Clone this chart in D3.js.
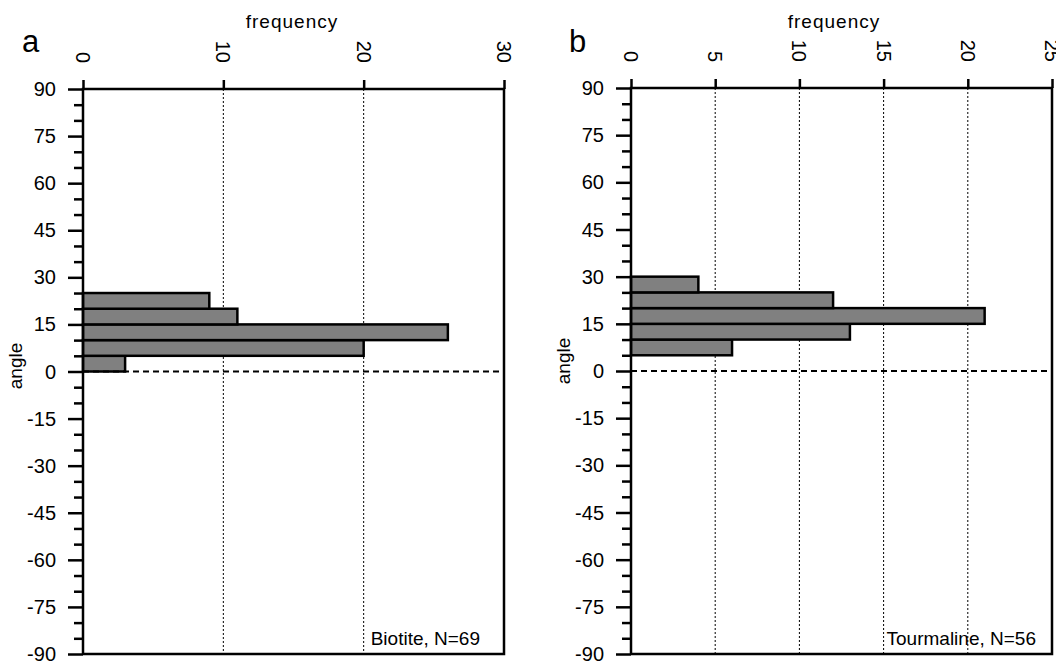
<!DOCTYPE html>
<html>
<head>
<meta charset="utf-8">
<script src="https://cdn.jsdelivr.net/npm/d3@7"></script>
<style>
  body { margin: 0; background: #fff; }
  text { font-family: "Liberation Sans", Arial, sans-serif; fill: #000; }
</style>
</head>
<body>
<div id="chart"></div>
<script>
// angle bins (lower edge, 5 degree wide)
const binStarts = [0, 5, 10, 15, 20, 25];
const biotiteCounts = [3, 20, 26, 11, 9, 0];
const tourmalineCounts = [0, 6, 13, 21, 12, 4];

const angleTicks = [90, 75, 60, 45, 30, 15, 0, -15, -30, -45, -60, -75, -90];
const biotiteFreqTicks = [0, 10, 20, 30];
const tourmalineFreqTicks = [0, 5, 10, 15, 20, 25];

const panelLetters = ["a", "b"];
const panelNotes = ["Biotite, N=69", "Tourmaline, N=56"];

const svg = d3.select("#chart").append("svg")
  .attr("width", 1056)
  .attr("height", 665);

function drawPanel(opt) {
  const g = svg.append("g");

  let x = d3.scaleLinear()
    .domain([0, d3.max(opt.freqTicks)])
    .range([opt.left, opt.right]);

  let y = d3.scaleLinear()
    .domain([-90, 90])
    .range([opt.bottom, opt.top]);

  // dotted grid lines
  g.selectAll("line.grid")
    .data(opt.freqTicks.slice(1, -1))
    .enter()
    .append("line")
    .attr("class", "grid")
    .attr("x1", d => x(d)).attr("x2", d => x(d))
    .attr("y1", y(90)).attr("y2", y(-90))
    .attr("stroke", "#000")
    .attr("stroke-width", 1)
    .attr("stroke-dasharray", "2,2");

  // bars
  const bins = binStarts.map((b, i) => ({lo: b, hi: b + 5, value: opt.counts[i]}))
    .filter(d => d.value > 0);

  g.selectAll("rect.bar")
    .data(bins)
    .enter()
    .append("rect")
    .attr("class", "bar")
    .attr("x", x(0))
    .attr("y", d => y(d.hi))
    .attr("width", d => x(d.value) - x(0))
    .attr("height", d => y(d.lo) - y(d.hi))
    .attr("fill", "#808080")
    .attr("stroke", "#000")
    .attr("stroke-width", 2.5);

  // zero line
  g.append("line")
    .attr("x1", x(0)).attr("x2", opt.right)
    .attr("y1", y(0)).attr("y2", y(0))
    .attr("stroke", "#000")
    .attr("stroke-width", 2.2)
    .attr("stroke-dasharray", "6,4");

  // frame: top, right, bottom, left
  g.append("path")
    .attr("d", `M${x(0)},${y(-90)}V${y(90)}H${opt.right}V${y(-90)}H${x(0)}`)
    .attr("fill", "none")
    .attr("stroke", "#000")
    .attr("stroke-width", 2.5);

  // top axis (frequency)
  const xAxis = d3.axisTop(x)
    .tickValues(opt.freqTicks)
    .tickSize(9)
    .tickFormat(() => "");
  const xg = g.append("g")
    .attr("transform", `translate(0, ${y(90)})`)
    .call(xAxis);
  xg.select(".domain").remove();
  xg.selectAll(".tick line").attr("stroke-width", 2.5);

  g.selectAll("text.xlab")
    .data(opt.freqTicks)
    .enter()
    .append("text")
    .attr("class", "xlab")
    .attr("transform", d => `translate(${x(d)}, ${y(90) - 26}) rotate(90)`)
    .attr("text-anchor", "end")
    .attr("dy", "0.35em")
    .style("font-size", "20px")
    .text(d => d);

  // left axis (angle), minor ticks every 5 degrees
  const minor = d3.range(-90, 91, 5).filter(d => d % 15 != 0);
  const yMajor = d3.axisLeft(y).tickValues(angleTicks).tickSize(15).tickFormat(() => "");
  const yMinor = d3.axisLeft(y).tickValues(minor).tickSize(9).tickFormat(() => "");
  [yMajor, yMinor].forEach(ax => {
    const yg = g.append("g")
      .attr("transform", `translate(${x(0)}, 0)`)
      .call(ax);
    yg.select(".domain").remove();
    yg.selectAll(".tick line").attr("stroke-width", 2.5);
  });

  g.selectAll("text.ylab")
    .data(angleTicks)
    .enter()
    .append("text")
    .attr("class", "ylab")
    .attr("x", x(0) - 27)
    .attr("y", d => y(d))
    .attr("dy", "0.35em")
    .attr("text-anchor", "end")
    .style("font-size", "20px")
    .text(d => d);

  // titles
  g.append("text")
    .attr("x", opt.freqX)
    .attr("y", 28)
    .attr("text-anchor", "middle")
    .style("font-size", "19px")
    .style("letter-spacing", "1px")
    .text("frequency");

  g.append("text")
    .attr("transform", `translate(${opt.angleX}, ${opt.angleY}) rotate(-90)`)
    .attr("text-anchor", "middle")
    .style("font-size", "19px")
    .text("angle");

  g.append("text")
    .attr("x", opt.letterX)
    .attr("y", 52)
    .style("font-size", "31px")
    .text(opt.letter);

  g.append("text")
    .attr("x", opt.noteX)
    .attr("y", 645)
    .attr("text-anchor", "end")
    .style("font-size", "19px")
    .text(opt.note);
}

drawPanel({
  left: 83, right: 504, top: 89, bottom: 654,
  freqTicks: biotiteFreqTicks, counts: biotiteCounts,
  freqX: 292, angleX: 22, angleY: 366, letterX: 22,
  letter: panelLetters[0], note: panelNotes[0], noteX: 480
});

drawPanel({
  left: 631, right: 1052, top: 88, bottom: 654,
  freqTicks: tourmalineFreqTicks, counts: tourmalineCounts,
  freqX: 834, angleX: 570, angleY: 361, letterX: 569,
  letter: panelLetters[1], note: panelNotes[1], noteX: 1036
});
</script>
</body>
</html>
